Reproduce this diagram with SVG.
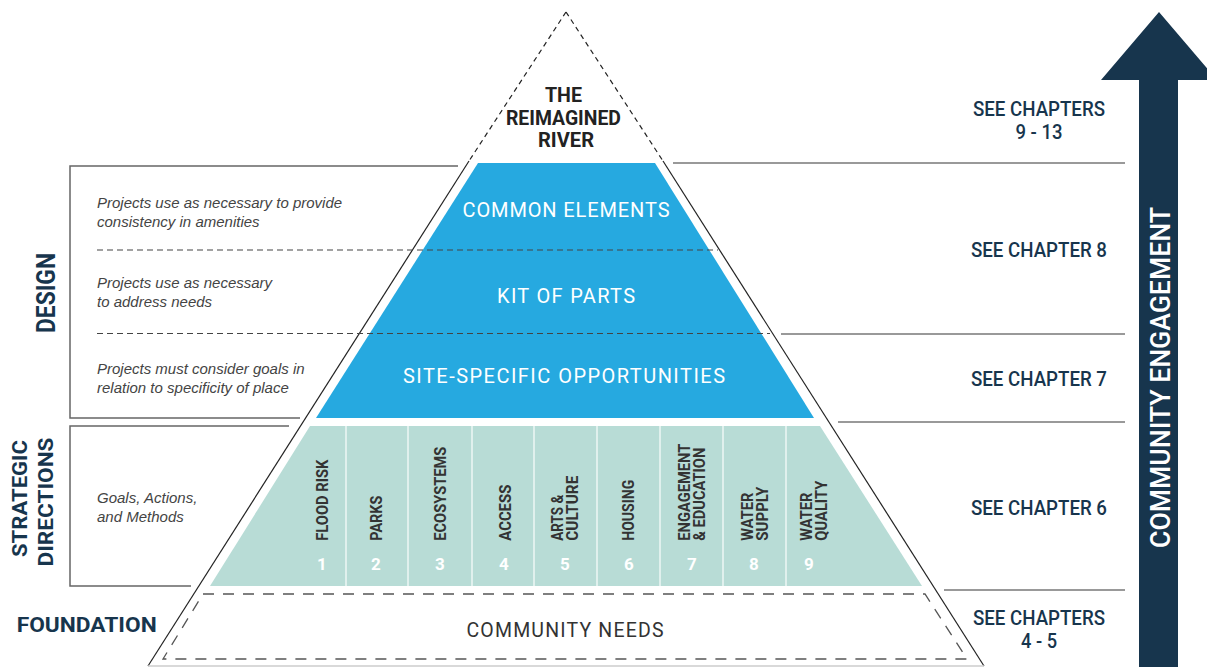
<svg xmlns="http://www.w3.org/2000/svg" width="1207" height="667" viewBox="0 0 1207 667">
<style>
.navy{fill:#17354d}
.lbl{font-family:Roboto,"Liberation Sans",sans-serif;font-weight:700;fill:#17354d}
.ital{font-family:"Liberation Sans",Arial,sans-serif;font-style:italic;font-size:15px;fill:#444}
.tier{font-family:Roboto,"Liberation Sans",sans-serif;font-size:20px;fill:#fff}
.col{font-family:Roboto,"Liberation Sans",sans-serif;font-weight:700;font-size:16.5px;fill:#333}
.num{font-family:Roboto,"Liberation Sans",sans-serif;font-weight:700;font-size:17px;fill:#fff;text-anchor:middle}
.ch{font-family:Roboto,"Liberation Sans",sans-serif;font-weight:500;font-size:21px;fill:#17354d;text-anchor:middle}
.rule{stroke:#777;stroke-width:1.5;fill:none}
.box{stroke:#666;stroke-width:1.5;fill:none}
.dash{stroke:#444;stroke-width:1.2;stroke-dasharray:6 4;fill:none}
.outer{stroke:#222;stroke-width:1.2;fill:none}
</style>

<g id="pyramid-blue">
  <polygon points="478,163 655,163 814,418 316,418" fill="#26a9e0"/>
</g>
<g id="pyramid-green">
  <polygon points="310,426 820,426 922,586 210,586" fill="#b8dcd6"/>
  <g stroke="#eef7f5" stroke-width="1.5">
    <line x1="346" y1="426" x2="346" y2="586"/>
    <line x1="408" y1="426" x2="408" y2="586"/>
    <line x1="472" y1="426" x2="472" y2="586"/>
    <line x1="534" y1="426" x2="534" y2="586"/>
    <line x1="597" y1="426" x2="597" y2="586"/>
    <line x1="660" y1="426" x2="660" y2="586"/>
    <line x1="723" y1="426" x2="723" y2="586"/>
    <line x1="786" y1="426" x2="786" y2="586"/>
  </g>
</g>

<g id="connectors">
  <path class="outer" d="M566,12 L469,161" stroke-dasharray="5 4"/>
  <path class="outer" d="M566,12 L663,161" stroke-dasharray="5 4"/>
  <path class="outer" d="M469,161 L148,666"/>
  <path class="outer" d="M663,161 L984,666"/>
  <line x1="148" y1="666" x2="984" y2="666" stroke="#ccc" stroke-width="1.5"/>
  <line class="dash" x1="97" y1="250" x2="718" y2="250"/>
  <line class="dash" x1="97" y1="333.5" x2="770" y2="333.5"/>
  <path class="box" d="M458,166 H70 V418 H300"/>
  <path class="box" d="M289,426 H70 V586 H191"/>
  <line class="rule" x1="673" y1="163" x2="1125" y2="163"/>
  <line class="rule" x1="781" y1="334" x2="1125" y2="334"/>
  <line class="rule" x1="838" y1="422" x2="1125" y2="422"/>
  <line class="rule" x1="944" y1="590" x2="1125" y2="590"/>
  <polygon points="203,594 925,594 967,659 163,659" fill="none" stroke="#555" stroke-width="1.3" stroke-dasharray="11 9"/>
</g>

<g id="apex">
  <text class="lbl" font-size="20.5" text-anchor="middle" style="fill:#222">
    <tspan x="566" y="102" textLength="37" lengthAdjust="spacingAndGlyphs">THE</tspan>
    <tspan x="566" y="125" textLength="115" lengthAdjust="spacingAndGlyphs">REIMAGINED</tspan>
    <tspan x="566" y="147" textLength="56" lengthAdjust="spacingAndGlyphs">RIVER</tspan>
  </text>
</g>

<g id="common-elements">
  <text class="tier" x="566" y="217" text-anchor="middle" textLength="207" lengthAdjust="spacing">COMMON ELEMENTS</text>
</g>
<g id="kit-of-parts">
  <text class="tier" x="566" y="303" text-anchor="middle" textLength="138" lengthAdjust="spacing">KIT OF PARTS</text>
</g>
<g id="site-specific">
  <text class="tier" x="564" y="383" text-anchor="middle" textLength="322" lengthAdjust="spacing">SITE-SPECIFIC OPPORTUNITIES</text>
</g>

<g id="columns">
  <text class="col" transform="translate(328,540.7) rotate(-90)" textLength="81" lengthAdjust="spacingAndGlyphs">FLOOD RISK</text>
  <text class="col" transform="translate(381.7,540.7) rotate(-90)" textLength="45" lengthAdjust="spacingAndGlyphs">PARKS</text>
  <text class="col" transform="translate(446,540.7) rotate(-90)" textLength="94" lengthAdjust="spacingAndGlyphs">ECOSYSTEMS</text>
  <text class="col" transform="translate(510.7,540.7) rotate(-90)" textLength="56" lengthAdjust="spacingAndGlyphs">ACCESS</text>
  <text class="col" transform="translate(563.3,540.7) rotate(-90)" textLength="46" lengthAdjust="spacingAndGlyphs">ARTS &amp;</text>
  <text class="col" transform="translate(578.3,540.7) rotate(-90)" textLength="65" lengthAdjust="spacingAndGlyphs">CULTURE</text>
  <text class="col" transform="translate(634.3,540.7) rotate(-90)" textLength="61" lengthAdjust="spacingAndGlyphs">HOUSING</text>
  <text class="col" transform="translate(690,540.7) rotate(-90)" textLength="97" lengthAdjust="spacingAndGlyphs">ENGAGEMENT</text>
  <text class="col" transform="translate(705,540.7) rotate(-90)" textLength="93" lengthAdjust="spacingAndGlyphs">&amp; EDUCATION</text>
  <text class="col" transform="translate(753.3,540.7) rotate(-90)" textLength="48" lengthAdjust="spacingAndGlyphs">WATER</text>
  <text class="col" transform="translate(768.3,540.7) rotate(-90)" textLength="54" lengthAdjust="spacingAndGlyphs">SUPPLY</text>
  <text class="col" transform="translate(811.7,540.7) rotate(-90)" textLength="48" lengthAdjust="spacingAndGlyphs">WATER</text>
  <text class="col" transform="translate(826.7,540.7) rotate(-90)" textLength="60" lengthAdjust="spacingAndGlyphs">QUALITY</text>
  <text class="num" x="322" y="570">1</text>
  <text class="num" x="376" y="570">2</text>
  <text class="num" x="440" y="570">3</text>
  <text class="num" x="504" y="570">4</text>
  <text class="num" x="565" y="570">5</text>
  <text class="num" x="629" y="570">6</text>
  <text class="num" x="692" y="570">7</text>
  <text class="num" x="754" y="570">8</text>
  <text class="num" x="809" y="570">9</text>
</g>

<g id="community-needs">
  <text x="565" y="637" text-anchor="middle" font-family="Roboto,'Liberation Sans',sans-serif" font-size="19.5" fill="#333" textLength="197" lengthAdjust="spacing">COMMUNITY NEEDS</text>
</g>

<g id="design">
  <text class="lbl" font-size="25" text-anchor="middle" transform="translate(55,293) rotate(-90)" textLength="80" lengthAdjust="spacingAndGlyphs">DESIGN</text>
  <text class="ital" x="97" y="208">Projects use as necessary to provide</text>
  <text class="ital" x="97" y="227">consistency in amenities</text>
  <text class="ital" x="97" y="288">Projects use as necessary</text>
  <text class="ital" x="97" y="307">to address needs</text>
  <text class="ital" x="97" y="374">Projects must consider goals in</text>
  <text class="ital" x="97" y="393">relation to specificity of place</text>
</g>

<g id="strategic-directions">
  <text class="lbl" font-size="20" text-anchor="middle" transform="translate(26.7,498.5) rotate(-90)" textLength="117" lengthAdjust="spacingAndGlyphs">STRATEGIC</text>
  <text class="lbl" font-size="20" text-anchor="middle" transform="translate(53.3,502) rotate(-90)" textLength="129" lengthAdjust="spacingAndGlyphs">DIRECTIONS</text>
  <text class="ital" x="97" y="503">Goals, Actions,</text>
  <text class="ital" x="97" y="522">and Methods</text>
</g>

<g id="foundation">
  <text class="lbl" font-size="21" x="16.7" y="632" textLength="140" lengthAdjust="spacingAndGlyphs">FOUNDATION</text>
</g>

<g id="chapters">
  <text class="ch" x="1039" y="116" textLength="132" lengthAdjust="spacingAndGlyphs">SEE CHAPTERS</text>
  <text class="ch" x="1039" y="139" textLength="47" lengthAdjust="spacingAndGlyphs">9 - 13</text>
  <text class="ch" x="1039" y="256.7" textLength="136" lengthAdjust="spacingAndGlyphs">SEE CHAPTER 8</text>
  <text class="ch" x="1039" y="385.7" textLength="136" lengthAdjust="spacingAndGlyphs">SEE CHAPTER 7</text>
  <text class="ch" x="1039" y="515" textLength="136" lengthAdjust="spacingAndGlyphs">SEE CHAPTER 6</text>
  <text class="ch" x="1039" y="625" textLength="132" lengthAdjust="spacingAndGlyphs">SEE CHAPTERS</text>
  <text class="ch" x="1039" y="648" textLength="36" lengthAdjust="spacingAndGlyphs">4 - 5</text>
</g>

<g id="community-engagement">
  <polygon class="navy" points="1101,80 1159,12 1217,80 1178,80 1178,667 1139,667 1139,80"/>
  <text transform="translate(1170,377.5) rotate(-90)" text-anchor="middle" font-family="Roboto,'Liberation Sans',sans-serif" font-weight="500" font-size="28" fill="#fff" textLength="341" lengthAdjust="spacingAndGlyphs">COMMUNITY ENGAGEMENT</text>
</g>
</svg>
